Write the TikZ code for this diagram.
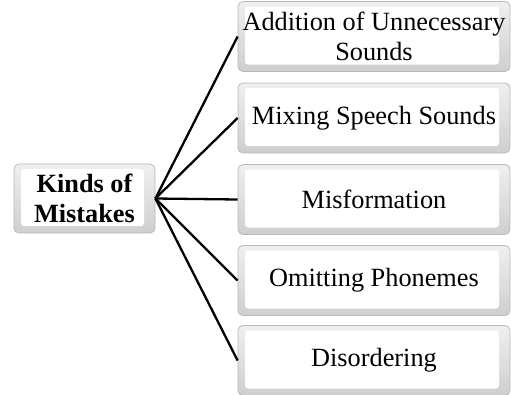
\documentclass[tikz,border=0pt]{standalone}
\usepackage{fontspec}
\setmainfont{Liberation Serif}
\begin{document}
\begin{tikzpicture}[x=1pt,y=-1pt,
  bevelbox/.style={shade, top color=gray!12, bottom color=gray!38,
    draw=gray!55, line width=0.8pt, rounded corners=5pt,
    inner sep=0pt, align=center, font=\fontsize{26.3}{30.5}\selectfont,
    path picture={
      \fill[white, rounded corners=3pt]
        ([shift={(7pt,7pt)}]path picture bounding box.south west) rectangle
        ([shift={(-11pt,-5pt)}]path picture bounding box.north east);
    }},
  leaf/.style={bevelbox, minimum width=272pt, minimum height=70pt},
  rootbox/.style={bevelbox, minimum width=141pt, minimum height=69pt, font=\fontsize{26.3}{30.5}\selectfont\bfseries},
  link/.style={line width=2.3pt, black}]
\useasboundingbox (0,0) rectangle (511,394);
\node[rootbox] (root) at (84.5,198.5) {Kinds of\\Mistakes};
\node[leaf] (a) at (374,36.5) {Addition of Unnecessary\\Sounds};
\node[leaf] (b) at (374,118) {Mixing Speech Sounds};
\node[leaf] (c) at (374,199.5) {Misformation};
\node[leaf] (d) at (374,280.5) {Omitting Phonemes};
\node[leaf] (e) at (374,360.5) {Disordering};
\foreach \n in {a,b,c,d,e} \draw[link] (root.east) -- (\n.west);
\end{tikzpicture}
\end{document}
